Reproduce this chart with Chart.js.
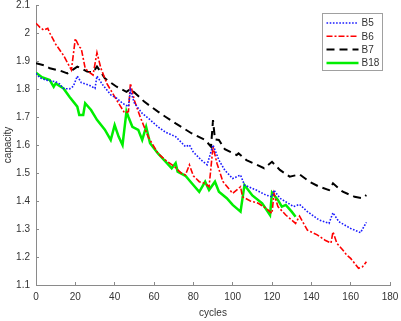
<!DOCTYPE html>
<html>
<head>
<meta charset="utf-8">
<script src="https://cdn.jsdelivr.net/npm/chart.js@4/dist/chart.umd.min.js"></script>
<style>
  html, body { margin: 0; padding: 0; background: #fff; }
  #wrap { width: 401px; height: 321px; }
</style>
</head>
<body>
<div id="wrap"><canvas id="cap-chart" width="401" height="321"></canvas></div>
<script>
// capacity vs cycle
const b5Cycles = [0, 2, 5, 10, 12, 14, 17, 19, 21, 23, 27, 30, 31, 34, 38, 41, 44, 47, 48, 50, 54, 58, 62, 66, 71, 76, 78, 80, 84, 87, 90, 93, 96, 100, 104, 106, 112, 117, 120, 121, 124, 131, 134, 138, 144, 149, 151, 154, 160, 165, 168]
const b5Cap = [1.856, 1.84, 1.832, 1.826, 1.818, 1.802, 1.8, 1.81, 1.846, 1.823, 1.814, 1.802, 1.846, 1.814, 1.779, 1.767, 1.749, 1.737, 1.796, 1.75, 1.713, 1.69, 1.665, 1.645, 1.63, 1.594, 1.6, 1.575, 1.546, 1.529, 1.6, 1.546, 1.51, 1.48, 1.493, 1.457, 1.439, 1.421, 1.415, 1.439, 1.41, 1.38, 1.388, 1.362, 1.332, 1.32, 1.358, 1.326, 1.302, 1.287, 1.324]

const b6Cycles = [0, 2, 4, 6, 7, 10, 14, 18, 20, 22, 23, 25, 27, 29, 31, 33, 36, 38, 42, 45, 47, 48, 50, 53, 57, 62, 66, 70, 74, 76, 78, 80, 83, 86, 88, 90, 92, 95, 100, 104, 105, 109, 113, 117, 120, 121, 123, 127, 132, 134, 138, 143, 147, 150, 151, 153, 156, 158, 160, 164, 166, 168]
const b6Cap = [2.035, 2.02, 2.01, 2.017, 2.0, 1.96, 1.92, 1.868, 1.98, 1.95, 1.945, 1.874, 1.86, 1.85, 1.93, 1.874, 1.82, 1.796, 1.749, 1.715, 1.719, 1.82, 1.76, 1.7, 1.63, 1.57, 1.545, 1.525, 1.499, 1.493, 1.529, 1.49, 1.469, 1.463, 1.451, 1.594, 1.535, 1.47, 1.427, 1.451, 1.415, 1.4, 1.392, 1.374, 1.356, 1.427, 1.38, 1.35, 1.32, 1.346, 1.296, 1.279, 1.26, 1.25, 1.29, 1.249, 1.225, 1.207, 1.195, 1.16, 1.165, 1.183]

const b7Cycles = [0, 4, 7, 12, 16, 19, 21, 24, 26, 29, 31, 33, 35, 38, 41, 46, 48, 52, 55, 62, 66, 71, 75, 79, 86, 89, 90, 91, 93, 96, 102, 103, 107, 112, 116, 120, 124, 129, 134, 139, 144, 149, 151, 156, 162, 166, 168]
const b7Cap = [1.892, 1.885, 1.874, 1.866, 1.856, 1.87, 1.88, 1.87, 1.862, 1.86, 1.88, 1.86, 1.838, 1.823, 1.808, 1.79, 1.8, 1.775, 1.755, 1.719, 1.7, 1.677, 1.66, 1.642, 1.618, 1.594, 1.689, 1.62, 1.618, 1.585, 1.564, 1.57, 1.546, 1.53, 1.517, 1.54, 1.511, 1.487, 1.495, 1.469, 1.451, 1.439, 1.463, 1.433, 1.415, 1.41, 1.421]

const b18Cycles = [0, 3, 7, 9, 10, 14, 17, 21, 22, 24, 25, 28, 31, 35, 38, 40, 42, 44, 46, 47, 49, 52, 54, 56, 58, 62, 66, 69, 71, 72, 76, 79, 83, 86, 88, 91, 93, 97, 100, 104, 106, 110, 115, 119, 120, 123, 125, 127, 130, 132]
const b18Cap = [1.858, 1.842, 1.832, 1.808, 1.82, 1.802, 1.772, 1.737, 1.707, 1.707, 1.749, 1.725, 1.69, 1.655, 1.618, 1.671, 1.63, 1.6, 1.72, 1.7, 1.665, 1.654, 1.618, 1.665, 1.606, 1.57, 1.54, 1.517, 1.535, 1.505, 1.49, 1.465, 1.433, 1.469, 1.439, 1.469, 1.433, 1.41, 1.386, 1.362, 1.457, 1.42, 1.392, 1.35, 1.43, 1.404, 1.38, 1.386, 1.362, 1.344]

const seriesNames = ['B5', 'B6', 'B7', 'B18']
const xTicks = [0, 20, 40, 60, 80, 100, 120, 140, 160, 180]
const yTicks = [1.1, 1.2, 1.3, 1.4, 1.5, 1.6, 1.7, 1.8, 1.9, 2, 2.1]

const toPoints = (xs, ys) => xs.map((x, i) => ({ x: x, y: ys[i] }))

const textColor = '#333333'
const axisColor = '#8a8a8a'
const font = { family: '"Liberation Sans", Arial, sans-serif', size: 10 }

// boxed legend in the upper right corner, like the matlab one
const boxLegend = {
  id: 'boxLegend',
  afterDraw(chart) {
    const ctx = chart.ctx
    const left = 322.5, top = 13.5, w = 60, h = 57
    ctx.save()
    ctx.fillStyle = '#fff'
    ctx.fillRect(left, top, w, h)
    ctx.strokeStyle = '#a0a0a0'
    ctx.lineWidth = 1
    ctx.strokeRect(left, top, w, h)
    chart.data.datasets.forEach((ds, i) => {
      const y = top + 9.5 + i * 13.3
      ctx.beginPath()
      ctx.setLineDash(ds.borderDash || [])
      ctx.strokeStyle = ds.borderColor
      ctx.lineWidth = ds.borderWidth
      ctx.moveTo(left + 4, y)
      ctx.lineTo(left + 36, y)
      ctx.stroke()
      ctx.setLineDash([])
      ctx.fillStyle = textColor
      ctx.font = '10px ' + font.family
      ctx.textBaseline = 'middle'
      ctx.textAlign = 'left'
      ctx.fillText(ds.label, left + 39, y + 0.5)
    })
    ctx.restore()
  }
}

const data = {
  datasets: [
    {
      label: seriesNames[0],
      data: toPoints(b5Cycles, b5Cap),
      borderColor: '#1a1aff',
      borderWidth: 1.6,
      borderDash: [1.6, 1.6]
    },
    {
      label: seriesNames[1],
      data: toPoints(b6Cycles, b6Cap),
      borderColor: '#ff0000',
      borderWidth: 1.6,
      borderDash: [6, 2, 2, 2]
    },
    {
      label: seriesNames[2],
      data: toPoints(b7Cycles, b7Cap),
      borderColor: '#000000',
      borderWidth: 2,
      borderDash: [8, 5]
    },
    {
      label: seriesNames[3],
      data: toPoints(b18Cycles, b18Cap),
      borderColor: '#00ee00',
      borderWidth: 2.5
    }
  ]
}

const config = {
  type: 'line',
  data,
  options: {
    responsive: false,
    animation: false,
    devicePixelRatio: 1,
    elements: {
      point: { radius: 0 },
      line: { tension: 0, fill: false }
    },
    layout: {
      padding: { top: 5, right: 11, left: 0, bottom: 0 }
    },
    plugins: {
      legend: { display: false },
      tooltip: { enabled: false }
    },
    scales: {
      x: {
        type: 'linear',
        min: 0,
        max: 180,
        afterFit: scale => {
          scale.height = 36
          scale.paddingLeft = 0
          scale.paddingRight = 0
        },
        afterBuildTicks: scale => { scale.ticks = xTicks.map(v => ({ value: v })) },
        ticks: { color: textColor, font, padding: 9, maxRotation: 0 },
        grid: { drawOnChartArea: false, tickLength: -3, color: axisColor },
        border: { color: axisColor },
        title: { display: true, text: 'cycles', color: textColor, font, padding: { top: 0, bottom: 2 } }
      },
      y: {
        type: 'linear',
        min: 1.1,
        max: 2.1,
        afterFit: scale => {
          scale.width = 36
          scale.paddingTop = 0
          scale.paddingBottom = 0
        },
        afterBuildTicks: scale => { scale.ticks = yTicks.map(v => ({ value: v })) },
        ticks: { color: textColor, font, padding: 9, callback: v => String(+v.toFixed(1)) },
        grid: { drawOnChartArea: false, tickLength: -3, color: axisColor },
        border: { color: axisColor },
        title: { display: true, text: 'capacity', color: textColor, font, padding: { top: 2, bottom: 0 } }
      }
    }
  },
  plugins: [boxLegend]
}

const ctx = document.getElementById('cap-chart').getContext('2d')
const capChart = new Chart(ctx, config)
</script>
</body>
</html>
